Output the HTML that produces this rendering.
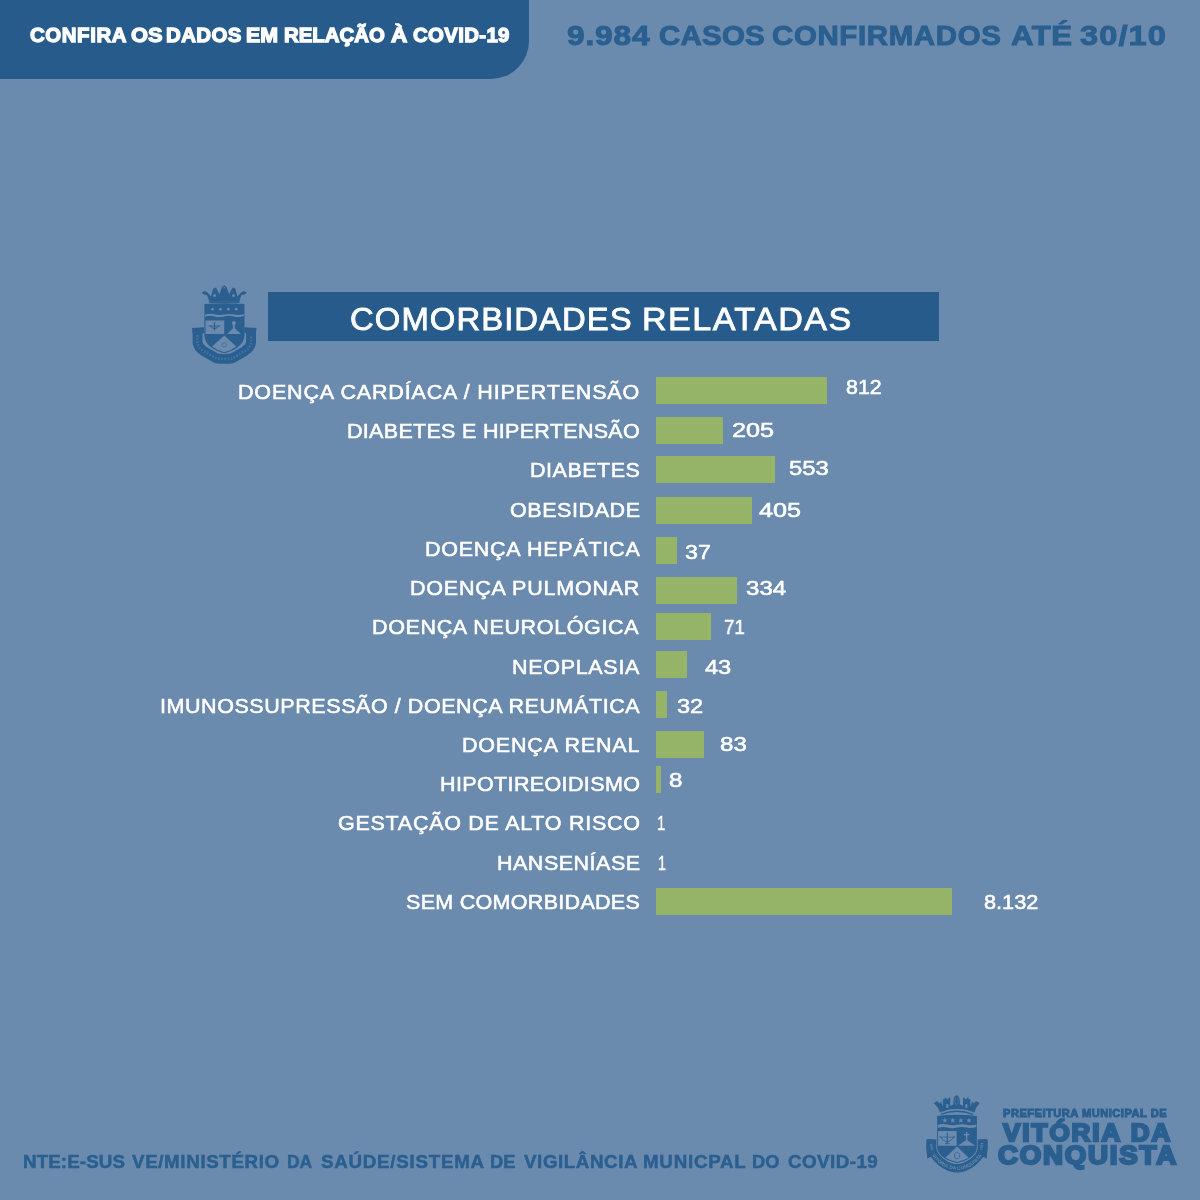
<!DOCTYPE html>
<html lang="pt-BR">
<head>
<meta charset="utf-8">
<title>Comorbidades relatadas - COVID-19</title>
<style>
html,body{margin:0;padding:0;}
body{width:1200px;height:1200px;overflow:hidden;background:#6a8aae;font-family:"Liberation Sans",sans-serif;position:relative;}
.t{position:absolute;white-space:nowrap;line-height:1;transform-origin:0 0;will-change:transform;}
.pill{position:absolute;left:-40px;top:-40px;width:568.8px;height:119px;background:#265b8b;border-radius:0 0 38px 38px;}
.hl{font-size:20.4px;font-weight:bold;color:#fff;-webkit-text-stroke:1.3px #fff;}
.hr{font-size:28.3px;font-weight:bold;color:#2a5f90;-webkit-text-stroke:1px #2a5f90;}
.tbar{position:absolute;left:268px;top:292px;width:671px;height:48.6px;background:#265b8b;}
.ttl{font-size:31px;color:#fff;-webkit-text-stroke:0.8px #fff;}
.lab{font-size:20.3px;color:#fff;-webkit-text-stroke:0.55px #fff;}
.bar{position:absolute;left:656px;height:27px;background:#96b467;}
.val{font-size:20.3px;color:#fff;-webkit-text-stroke:0.55px #fff;}
.p1{font-size:10.1px;font-weight:bold;color:#2a5f90;-webkit-text-stroke:0.9px #2a5f90;}
.p2{font-size:24px;font-weight:bold;color:#2a5f90;-webkit-text-stroke:2.3px #2a5f90;}
.p3{font-size:25.6px;font-weight:bold;color:#2a5f90;-webkit-text-stroke:2.3px #2a5f90;}
.foot{font-size:18.2px;font-weight:bold;color:#2a5f90;-webkit-text-stroke:0.5px #2a5f90;}

</style>
</head>
<body>
<div class="pill"></div>
<div class="tbar"></div>
<div class="bar" style="top:377px;width:171px"></div>
<div class="bar" style="top:417px;width:67px"></div>
<div class="bar" style="top:456px;width:119px"></div>
<div class="bar" style="top:497px;width:96px"></div>
<div class="bar" style="top:537px;width:21px"></div>
<div class="bar" style="top:577px;width:81px"></div>
<div class="bar" style="top:613px;width:55px"></div>
<div class="bar" style="top:651px;width:31px"></div>
<div class="bar" style="top:691px;width:11px"></div>
<div class="bar" style="top:731px;width:48px"></div>
<div class="bar" style="top:766px;width:5px"></div>
<div class="bar" style="top:888px;width:296px"></div>
<div class="t hl" id="hl0" style="left:29.80px;top:25.00px;letter-spacing:0.600px;">CONFIRA</div>
<div class="t hl" id="hl1" style="left:130.90px;top:25.00px;transform:scaleX(1.0690);">OS</div>
<div class="t hl" id="hl2" style="left:165.90px;top:25.00px;letter-spacing:0.425px;">DADOS</div>
<div class="t hl" id="hl3" style="left:246.20px;top:25.00px;transform:scaleX(1.0483);">EM</div>
<div class="t hl" id="hl4" style="left:284.10px;top:25.00px;">RELAÇÃO</div>
<div class="t hl" id="hl5" style="left:390.90px;top:25.00px;transform:scaleX(1.1067);">À</div>
<div class="t hl" id="hl6" style="left:412.60px;top:25.00px;letter-spacing:0.343px;">COVID-19</div>
<div class="t hr" id="hr0" style="left:566.80px;top:20.60px;letter-spacing:0.737px;transform:scaleX(1.1200);">9.984</div>
<div class="t hr" id="hr1" style="left:659.00px;top:20.60px;letter-spacing:0.240px;transform:scaleX(1.0400);">CASOS</div>
<div class="t hr" id="hr2" style="left:771.90px;top:20.60px;letter-spacing:0.625px;transform:scaleX(1.0400);">CONFIRMADOS</div>
<div class="t hr" id="hr3" style="left:1010.70px;top:20.60px;letter-spacing:0.455px;transform:scaleX(1.1000);">ATÉ</div>
<div class="t hr" id="hr4" style="left:1080.00px;top:20.60px;letter-spacing:0.978px;transform:scaleX(1.1500);">30/10</div>
<div class="t ttl" id="ttl0" style="left:350.10px;top:304.00px;letter-spacing:0.986px;transform:scaleX(1.0600);">COMORBIDADES</div>
<div class="t ttl" id="ttl1" style="left:642.10px;top:304.00px;letter-spacing:1.318px;transform:scaleX(1.1000);">RELATADAS</div>
<div class="t foot" id="ft0" style="left:22.80px;top:1153.00px;letter-spacing:0.121px;transform:scaleX(1.0300);">NTE:E-SUS</div>
<div class="t foot" id="ft1" style="left:132.30px;top:1153.00px;letter-spacing:0.623px;transform:scaleX(1.0300);">VE/MINISTÉRIO</div>
<div class="t foot" id="ft2" style="left:286.90px;top:1153.00px;transform:scaleX(0.9508);">DA</div>
<div class="t foot" id="ft3" style="left:321.00px;top:1153.00px;letter-spacing:0.728px;transform:scaleX(1.0300);">SAÚDE/SISTEMA</div>
<div class="t foot" id="ft4" style="left:490.00px;top:1153.00px;transform:scaleX(0.9888);">DE</div>
<div class="t foot" id="ft5" style="left:523.50px;top:1153.00px;letter-spacing:0.572px;transform:scaleX(1.0300);">VIGILÂNCIA</div>
<div class="t foot" id="ft6" style="left:643.00px;top:1153.00px;letter-spacing:0.735px;transform:scaleX(1.0300);">MUNICPAL</div>
<div class="t foot" id="ft7" style="left:751.60px;top:1153.00px;transform:scaleX(0.9880);">DO</div>
<div class="t foot" id="ft8" style="left:787.50px;top:1153.00px;letter-spacing:0.458px;transform:scaleX(1.0300);">COVID-19</div>
<div class="t lab" id="l0" style="left:237.75px;top:382.00px;letter-spacing:0.772px;transform:scaleX(1.0600);">DOENÇA CARDÍACA / HIPERTENSÃO</div>
<div class="t lab" id="l1" style="left:347.00px;top:421.40px;letter-spacing:0.288px;transform:scaleX(1.0600);">DIABETES E HIPERTENSÃO</div>
<div class="t lab" id="l2" style="left:530.20px;top:460.20px;letter-spacing:0.485px;transform:scaleX(1.0600);">DIABETES</div>
<div class="t lab" id="l3" style="left:509.80px;top:499.80px;letter-spacing:0.542px;transform:scaleX(1.0600);">OBESIDADE</div>
<div class="t lab" id="l4" style="left:424.50px;top:538.60px;letter-spacing:0.704px;transform:scaleX(1.0600);">DOENÇA HEPÁTICA</div>
<div class="t lab" id="l5" style="left:410.00px;top:578.00px;letter-spacing:0.721px;transform:scaleX(1.0600);">DOENÇA PULMONAR</div>
<div class="t lab" id="l6" style="left:371.75px;top:617.40px;letter-spacing:0.608px;transform:scaleX(1.0600);">DOENÇA NEUROLÓGICA</div>
<div class="t lab" id="l7" style="left:512.10px;top:656.80px;letter-spacing:0.649px;transform:scaleX(1.0600);">NEOPLASIA</div>
<div class="t lab" id="l8" style="left:160.10px;top:695.80px;letter-spacing:0.529px;transform:scaleX(1.0600);">IMUNOSSUPRESSÃO / DOENÇA REUMÁTICA</div>
<div class="t lab" id="l9" style="left:461.90px;top:734.60px;letter-spacing:0.763px;transform:scaleX(1.0600);">DOENÇA RENAL</div>
<div class="t lab" id="l10" style="left:440.00px;top:774.00px;letter-spacing:0.350px;transform:scaleX(1.0600);">HIPOTIREOIDISMO</div>
<div class="t lab" id="l11" style="left:338.00px;top:813.40px;letter-spacing:0.683px;transform:scaleX(1.0600);">GESTAÇÃO DE ALTO RISCO</div>
<div class="t lab" id="l12" style="left:497.10px;top:852.80px;letter-spacing:0.472px;transform:scaleX(1.0600);">HANSENÍASE</div>
<div class="t lab" id="l13" style="left:406.10px;top:891.80px;letter-spacing:0.283px;transform:scaleX(1.0600);">SEM COMORBIDADES</div>
<div class="t val" id="v0" style="left:845.80px;top:377.00px;transform:scaleX(1.0531);">812</div>
<div class="t val" id="v1" style="left:732.10px;top:420.20px;transform:scaleX(1.2437);">205</div>
<div class="t val" id="v2" style="left:789.20px;top:457.60px;transform:scaleX(1.1781);">553</div>
<div class="t val" id="v3" style="left:759.40px;top:499.60px;transform:scaleX(1.2424);">405</div>
<div class="t val" id="v4" style="left:685.00px;top:542.10px;transform:scaleX(1.1429);">37</div>
<div class="t val" id="v5" style="left:745.90px;top:578.00px;transform:scaleX(1.1879);">334</div>
<div class="t val" id="v6" style="left:724.20px;top:616.50px;transform:scaleX(0.9238);">71</div>
<div class="t val" id="v7" style="left:705.20px;top:656.80px;transform:scaleX(1.1636);">43</div>
<div class="t val" id="v8" style="left:677.20px;top:695.80px;transform:scaleX(1.1619);">32</div>
<div class="t val" id="v9" style="left:719.60px;top:733.60px;transform:scaleX(1.1905);">83</div>
<div class="t val" id="v10" style="left:668.60px;top:769.80px;transform:scaleX(1.1900);">8</div>
<div class="t val" id="v11" style="left:656.90px;top:813.00px;transform:scaleX(0.7300);">1</div>
<div class="t val" id="v12" style="left:657.50px;top:853.00px;transform:scaleX(0.7000);">1</div>
<div class="t val" id="v13" style="left:983.60px;top:891.60px;transform:scaleX(1.0694);">8.132</div>
<div class="t p1" id="p1" style="left:1002.50px;top:1109.00px;letter-spacing:0.446px;transform:scaleX(1.1000);">PREFEITURA MUNICIPAL DE</div>
<div class="t p2" id="p2" style="left:1003.00px;top:1121.10px;letter-spacing:1.883px;transform:scaleX(1.0800);">VITÓRIA DA</div>
<div class="t p3" id="p3" style="left:997.50px;top:1143.20px;letter-spacing:1.655px;transform:scaleX(1.0800);">CONQUISTA</div>
<svg width="0" height="0" style="position:absolute">
<defs>
<symbol id="crest" viewBox="0 0 1200 1200">
<g fill="#2a5f90" stroke="none">
<path d="M250,200 L300,172 L322,205 L347,180 L372,250 L372,150 L395,150 L395,130 L420,130 L420,150 L445,150 L445,130 L470,130 L470,240 L513,215 A42,80 0 0 1 597,215 L640,240 L640,130 L665,130 L665,150 L690,150 L690,130 L715,130 L715,150 L738,150 L738,250 L763,180 L788,205 L810,172 L860,200 L815,262 L792,325 Q555,238 335,325 L305,262 Z"/>
<ellipse cx="555" cy="178" rx="42" ry="82"/>
<path d="M345,352 Q555,268 775,352" fill="none" stroke="#2a5f90" stroke-width="17"/>
<path d="M236,720 L236,800 C246,940 415,1066 560,1070 C705,1066 874,940 884,800 L884,720" fill="none" stroke="#2a5f90" stroke-width="112"/>
<path d="M150,700 Q150,680 175,680 L292,685 L292,830 L250,905 L252,950 L205,915 L165,948 L150,800 Z"/>
<path d="M970,700 Q970,680 945,680 L828,685 L828,830 L870,905 L868,950 L915,915 L955,948 L970,800 Z"/>
</g>
<path d="M295,690 L295,790 C295,890 420,975 560,1000 C700,975 825,890 825,790 L825,690" fill="#6a8aae" stroke="#6a8aae" stroke-width="22"/>
<path d="M295,372 Q555,338 825,372 L825,790 C825,890 700,975 560,1000 C420,975 295,890 295,790 Z" fill="#2a5f90"/>
<g fill="#6a8aae" stroke="none">
<rect x="418" y="215" width="27" height="50"/>
<rect x="672" y="215" width="27" height="50"/>
<ellipse cx="555" cy="175" rx="22" ry="50" fill="none" stroke="#6a8aae" stroke-width="9" opacity="0.7"/>
<path d="M348,322 Q555,240 772,322" fill="none" stroke="#6a8aae" stroke-width="9" opacity="0.55"/>
<path d="M0,-36 L10,-12 L35,-11 L15,5 L22,30 L0,16 L-22,30 L-15,5 L-35,-11 L-10,-12 Z" transform="translate(397,432)"/>
<path d="M0,-36 L10,-12 L35,-11 L15,5 L22,30 L0,16 L-22,30 L-15,5 L-35,-11 L-10,-12 Z" transform="translate(503,432)"/>
<path d="M0,-36 L10,-12 L35,-11 L15,5 L22,30 L0,16 L-22,30 L-15,5 L-35,-11 L-10,-12 Z" transform="translate(611,432)"/>
<path d="M0,-36 L10,-12 L35,-11 L15,5 L22,30 L0,16 L-22,30 L-15,5 L-35,-11 L-10,-12 Z" transform="translate(719,432)"/>
<path d="M303,494 Q365,470 430,488 T560,490 T690,490 T817,488 L817,520 Q755,545 690,528 T560,528 T430,528 T303,534 Z"/>
<rect x="307" y="574" width="248" height="196"/>
<rect x="678" y="588" width="20" height="105"/>
<rect x="653" y="612" width="70" height="20"/>
<path d="M688,690 L805,770 L572,770 Z"/>
<path d="M560,780 L716,930 Q640,972 560,986 Q480,972 404,930 Z"/>
</g>
<g fill="none" stroke="#2a5f90">
<path d="M430,590 L430,742" stroke-width="14"/>
<path d="M330,640 Q430,800 528,640" stroke-width="11"/>
<path d="M325,655 L532,655" stroke-width="9"/>
<path d="M400,742 L460,742" stroke-width="10"/>
<ellipse cx="560" cy="900" rx="34" ry="44" stroke-width="13" stroke-dasharray="22 7"/>
</g>
<path id="rb" d="M207,850 C250,985 420,1088 560,1092 C700,1088 870,985 913,850" fill="none"/>
<text font-family="Liberation Sans, sans-serif" font-weight="bold" font-size="64" fill="#6a8aae" letter-spacing="2"><textPath href="#rb" startOffset="50%" text-anchor="middle">VITÓRIA DA CONQUISTA</textPath></text>
<text font-family="Liberation Sans, sans-serif" font-weight="bold" font-size="44" fill="#6a8aae" transform="translate(243,835) rotate(-97)">1840</text>
<text font-family="Liberation Sans, sans-serif" font-weight="bold" font-size="44" fill="#6a8aae" transform="translate(880,728) rotate(97)">1891</text>
</symbol>
<symbol id="crest2" viewBox="0 0 1200 1200">
<g fill="#2a5f90" stroke="none">
<path d="M290,192 L330,172 L365,192 L415,248 L440,142 L480,125 L525,215 L560,120 L590,96 L620,120 L655,215 L700,125 L740,142 L765,248 L815,192 L850,172 L890,192 L870,218 L820,228 L797,290 L790,332 L390,332 L383,290 L360,228 L310,218 Z"/>
<path d="M234,700 L234,860 Q241,925 314,973 L470,1062 Q500,1076 540,1076 L641,1076 Q681,1076 711,1062 L867,973 Q940,925 947,860 L947,700" fill="none" stroke="#2a5f90" stroke-width="132" stroke-linejoin="round"/>
<path d="M160,665 L322,655 L322,735 L168,735 Z"/>
<path d="M1021,665 L859,655 L859,735 L1013,735 Z"/>
</g>
<path d="M232,760 L232,860 Q240,925 312,972 L470,1064 Q500,1078 540,1078 L641,1078 Q681,1078 711,1064 L869,972 Q941,925 949,860 L949,760" fill="none" stroke="#6a8aae" stroke-width="34" stroke-dasharray="22 20" opacity="0.42"/>
<path d="M325,735 L325,760 C325,890 460,975 590,1003 C720,975 860,890 860,760 L860,735" fill="#6a8aae" stroke="#6a8aae" stroke-width="26"/>
<path d="M325,347 Q590,325 860,347 L860,760 C860,890 720,975 590,1003 C460,975 325,890 325,760 Z" fill="#2a5f90"/>
<g fill="#6a8aae" stroke="none">
<circle cx="462" cy="235" r="19"/><circle cx="714" cy="235" r="19"/>
<circle cx="590" cy="128" r="12" opacity="0.7"/>
<path d="M395,318 L785,318" stroke="#6a8aae" stroke-width="8" opacity="0.35" fill="none"/>
<circle cx="435" cy="415" r="17"/><circle cx="540" cy="415" r="17"/><circle cx="645" cy="415" r="17"/><circle cx="750" cy="415" r="17"/>
<path d="M332,490 Q395,468 460,484 T590,486 T720,486 T853,484 L853,506 Q785,528 720,512 T590,512 T460,512 T332,516 Z"/>
<rect x="340" y="566" width="250" height="180"/>
<circle cx="718" cy="600" r="27"/>
<rect x="705" y="615" width="26" height="55"/>
<path d="M718,655 L812,747 L628,747 Z"/>
<path d="M590,765 L752,912 Q680,968 590,990 Q500,968 428,912 Z"/>
</g>
<g fill="none" stroke="#2a5f90">
<path d="M460,590 L460,700" stroke-width="16"/>
<path d="M395,630 Q460,720 525,630" stroke-width="13"/>
<path d="M385,640 L535,640" stroke-width="11"/>
<circle cx="590" cy="890" r="30" stroke-width="9" opacity="0.7"/>
</g>
</symbol>
</defs>
</svg>
<svg style="position:absolute;left:915px;top:1088px" width="90" height="90"><use href="#crest"/></svg>
<svg style="position:absolute;left:180px;top:278px;filter:blur(0.7px)" width="90" height="90"><use href="#crest2"/></svg>

</body>
</html>
